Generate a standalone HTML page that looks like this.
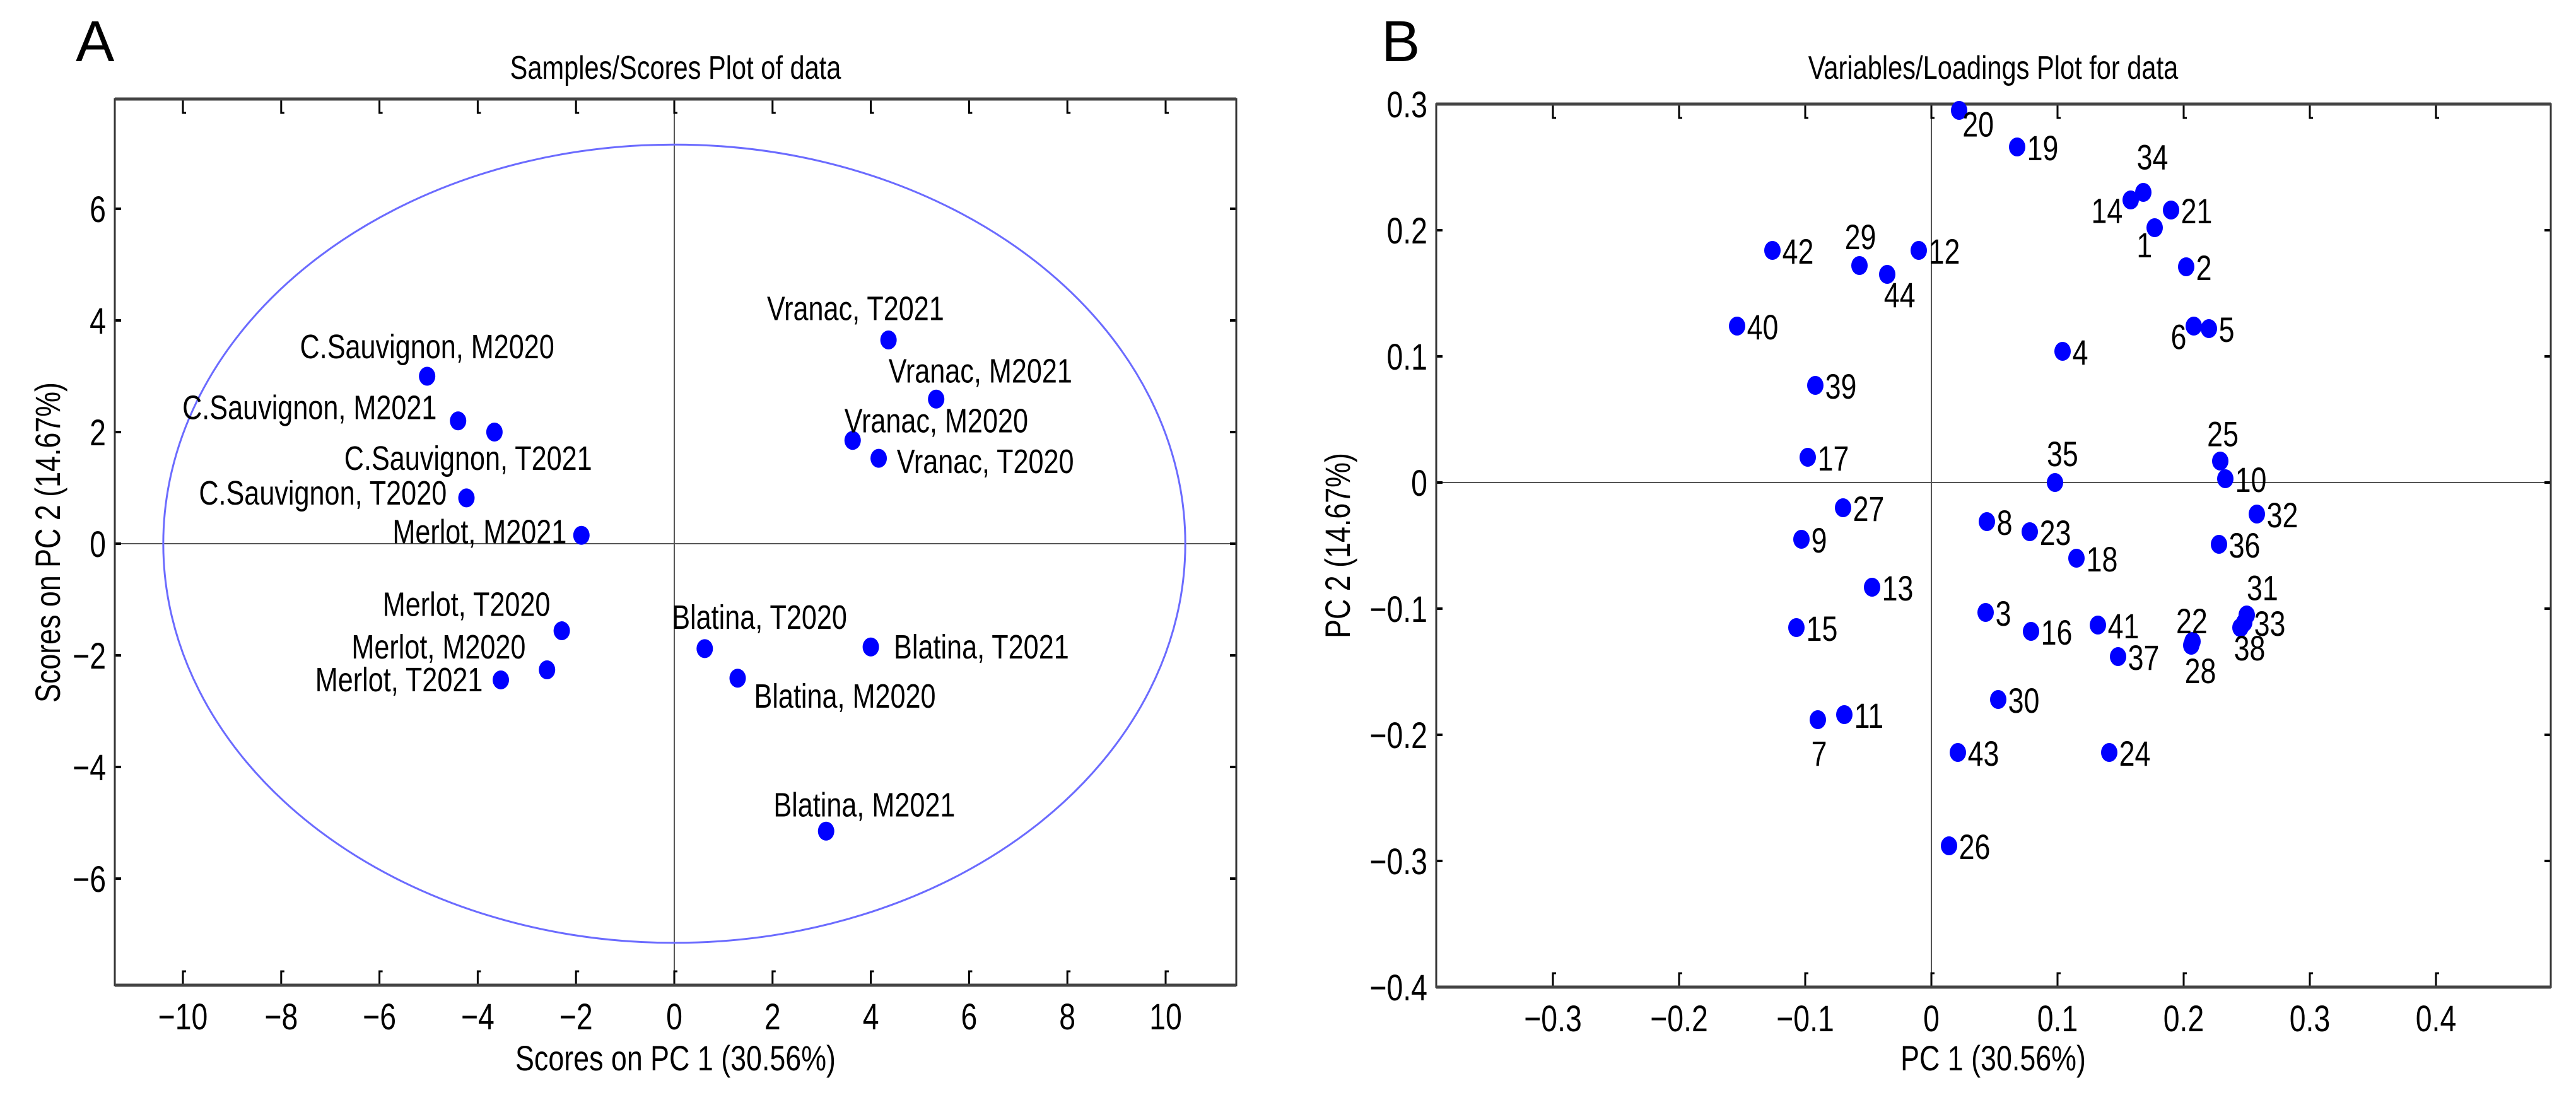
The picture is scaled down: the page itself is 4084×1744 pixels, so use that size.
<!DOCTYPE html>
<html><head><meta charset="utf-8"><style>
html,body{margin:0;padding:0;background:#fff;}
svg{display:block;}
text{font-family:"Liberation Sans Narrow","Liberation Sans",sans-serif;fill:#000;}
</style></head><body>
<svg id="fig" width="4084" height="1744" viewBox="0 0 4084 1744" xmlns="http://www.w3.org/2000/svg">
<text x="120" y="97" font-size="92">A</text>
<text x="2190" y="97" font-size="92">B</text>
<g id="plotA"></g>
<g id="plotB"></g>
</svg>
<script>
// ---- Panel A data ----
const sampleNames = ["C.Sauvignon, M2020","C.Sauvignon, M2021","C.Sauvignon, T2021","C.Sauvignon, T2020","Merlot, M2021","Merlot, T2020","Merlot, M2020","Merlot, T2021","Blatina, T2020","Blatina, M2020","Blatina, T2021","Blatina, M2021","Vranac, T2021","Vranac, M2021","Vranac, M2020","Vranac, T2020"];
const scorePC1 = [-5.03,-4.40,-3.66,-4.23,-1.89,-2.29,-2.59,-3.53,0.62,1.29,4.0,3.09,4.36,5.33,3.63,4.16];
const scorePC2 = [3.0,2.2,2.0,0.82,0.15,-1.56,-2.26,-2.44,-1.88,-2.41,-1.85,-5.15,3.65,2.59,1.85,1.53];
const ellipseRadii = [10.4, 7.15];
const xTicksA = [-10,-8,-6,-4,-2,0,2,4,6,8,10];
const yTicksA = [-6,-4,-2,0,2,4,6];
// ---- Panel B data ----
const varNames = ["1","2","3","4","5","6","7","8","9","10","11","12","13","14","15","16","17","18","19","20","21","22","23","24","25","26","27","28","29","30","31","32","33","34","35","36","37","38","39","40","41","42","43","44"];
const loadPC1 = [0.177,0.202,0.043,0.104,0.220,0.208,-0.090,0.044,-0.103,0.233,-0.069,-0.010,-0.047,0.158,-0.107,0.079,-0.098,0.115,0.068,0.022,0.190,0.207,0.078,0.141,0.229,0.014,-0.070,0.206,-0.057,0.053,0.250,0.258,0.248,0.168,0.098,0.228,0.148,0.245,-0.092,-0.154,0.132,-0.126,0.021,-0.035];
const loadPC2 = [0.202,0.171,-0.103,0.104,0.122,0.124,-0.188,-0.031,-0.045,0.003,-0.184,0.184,-0.083,0.224,-0.115,-0.118,0.020,-0.060,0.266,0.295,0.216,-0.126,-0.039,-0.214,0.017,-0.288,-0.020,-0.129,0.172,-0.172,-0.105,-0.025,-0.111,0.230,0.0,-0.049,-0.138,-0.115,0.077,0.124,-0.113,0.184,-0.214,0.165];
const xTicksB = [-0.3,-0.2,-0.1,0,0.1,0.2,0.3,0.4];
const yTicksB = [-0.4,-0.3,-0.2,-0.1,0,0.1,0.2,0.3];

const NS = "http://www.w3.org/2000/svg";
const SX = 0.8; // horizontal condensing to mimic a narrow font
function mk(parent, tag, attrs, txt){
  const e = document.createElementNS(NS, tag);
  for (const k in attrs) e.setAttribute(k, attrs[k]);
  if (txt !== undefined) e.textContent = txt;
  parent.appendChild(e);
  return e;
}
function txt(parent, x, y, size, anchor, str, rot){
  const tr = `translate(${x},${y})` + (rot ? ` rotate(${rot})` : "") + ` scale(${SX},1)`;
  return mk(parent,"text",{x:0,y:0,"font-size":size,"text-anchor":anchor,transform:tr}, str);
}
const S = 2.604; // display-to-original offset scale

// label offsets (styling only) [dx, dy, anchor]
const labOffA = [[0,-11,"middle"],[-13,-1,"end"],[-16,23,"middle"],[-12,4,"end"],[-9,5,"end"],[-7,-9,"end"],[-13,-7,"end"],[-11,7,"end"],[-20,-12,"start"],[10,18,"start"],[14,7,"start"],[-32,-9,"start"],[-74,-12,"start"],[-29,-10,"start"],[-5,-5,"start"],[11,9,"start"]];

function frame(g, L, R, T, B, x0, y0, xt, yt, xs, ys, fmt, nm){
  let e;
  e = mk(g,"line",{x1:x0,y1:T,x2:x0,y2:B,stroke:"#555","stroke-width":2});
  
  
  e = mk(g,"line",{x1:L,y1:y0,x2:R,y2:y0,stroke:"#555","stroke-width":2});
  
  
  xt.forEach(v=>{
    const x = xs(v);
    e = mk(g,"path",{d:`M${x} ${T}V${T+22}h5M${x} ${B}V${B-22}h5`,stroke:"#000","stroke-width":3,fill:"none"});
    
    
    e = txt(g, x, B+70, 58, "middle", fmt(v));
    
    
  });
  yt.forEach(v=>{
    const y = ys(v);
    e = mk(g,"path",{d:`M${L} ${y}h10M${R} ${y}h-10`,stroke:"#000","stroke-width":4,fill:"none"});
    
    
    e = txt(g, L-14, y+21, 58, "end", fmt(v));
    
    
  });
  e = mk(g,"rect",{x:L,y:T,width:R-L,height:B-T,fill:"none",stroke:"#333","stroke-width":3});
  
  
  e = mk(g,"line",{x1:L,y1:T,x2:R,y2:T,stroke:"#444","stroke-width":5});
  
  
  e = mk(g,"line",{x1:L,y1:B,x2:R,y2:B,stroke:"#444","stroke-width":5});
  
  
}

// ---------- Panel A ----------
(function(){
  const g = document.getElementById("plotA");
  const L=182,R=1960,T=157,B=1562;
  const xs = v => 1069 + v*77.9;
  const ys = v => 862 - v*88.5;
  frame(g,L,R,T,B,xs(0),ys(0),xTicksA,yTicksA,xs,ys,v=>String(v).replace("-","\u2212"),"scores");
  let e = mk(g,"ellipse",{cx:xs(0),cy:ys(0),rx:ellipseRadii[0]*77.9,ry:ellipseRadii[1]*88.5,fill:"none",stroke:"#6b6bff","stroke-width":3});
  
  
  scorePC1.forEach((v,i)=>{
    const x = xs(v), y = ys(scorePC2[i]);
    const p = mk(g,"ellipse",{cx:x,cy:y,rx:13,ry:15,fill:"#0000ff"});
    
    
    const o = labOffA[i];
    const t = txt(g, x+o[0]*S, y+o[1]*S, 54, o[2], sampleNames[i]);
    
    
  });
  e = txt(g, 1071, 125, 52, "middle", "Samples/Scores Plot of data");
  
  
  e = txt(g, 1071, 1697, 56, "middle", "Scores on PC 1 (30.56%)");
  
  
  e = txt(g, 95, 860, 56, "middle", "Scores on PC 2 (14.67%)", -90);
  e.setAttribute('transform', 'translate(95,860) rotate(-90) scale(0.8,1)');
  
  
})();

// ---------- Panel B ----------
const labOffB = {"20":[2,16,"start"],"34":[-4,-14,"start"],"14":[-24,14,"start"],"1":[-11,18,"start"],"6":[-14,14,"start"],"44":[-2,20,"start"],"29":[-9,-10,"start"],"35":[-5,-10,"start"],"25":[-8,-9,"start"],"31":[0,-9,"start"],"22":[-10,-5,"start"],"28":[-4,23,"start"],"38":[-4,20,"start"],"7":[-4,28,"start"]};
(function(){
  const g = document.getElementById("plotB");
  const L=2277,R=4044,T=165,B=1565;
  const xs = v => 3062 + v*2000;
  const ys = v => 765 - v*2000;
  frame(g,L,R,T,B,xs(0),ys(0),xTicksB,yTicksB,xs,ys,v=>(v===0?"0":v.toFixed(1)).replace("-","\u2212"),"loadings");
  loadPC1.forEach((v,i)=>{
    const x = xs(v), y = ys(loadPC2[i]);
    const p = mk(g,"ellipse",{cx:x,cy:y,rx:13,ry:15,fill:"#0000ff"});
    
    
    const o = labOffB[varNames[i]] || [6,8,"start"];
    const t = txt(g, x+o[0]*S, y+o[1]*S, 56, o[2], varNames[i]);
    
    
  });
  let e = txt(g, 3160, 125, 52, "middle", "Variables/Loadings Plot for data");
  
  
  e = txt(g, 3160, 1697, 56, "middle", "PC 1 (30.56%)");
  
  
  e = txt(g, 2140, 865, 56, "middle", "PC 2 (14.67%)", -90);
  
  
})();
</script>
</body></html>
